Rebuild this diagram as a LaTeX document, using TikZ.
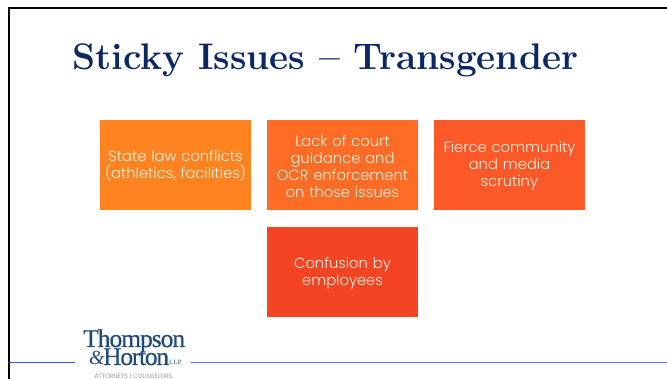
\documentclass[tikz,border=0pt]{standalone}
\usepackage{fontspec}
\setsansfont{Poppins Light}
\newfontfamily\logofont{Liberation Serif}
\definecolor{titleblue}{HTML}{0B2765}
\definecolor{logoblue}{HTML}{1F4A7C}
\definecolor{ruleblue}{HTML}{3355DD}
\definecolor{ruleblueb}{HTML}{5C78E8}
\definecolor{boxa}{HTML}{FF8421}
\definecolor{boxb}{HTML}{FF6C25}
\definecolor{boxc}{HTML}{FC5828}
\definecolor{boxd}{HTML}{F44424}
\newcommand{\firststrut}{\rule{0pt}{13.5pt}}
\tikzset{x=1pt,y=-1pt,
  issue/.style={minimum width=151pt,minimum height=90pt,inner sep=2pt,text width=147pt,align=center,text=white!88!orange,font=\sffamily\fontsize{14.7}{17}\selectfont},
  frame/.style={line width=2.4pt,black},
  rule/.style={line width=1.1pt,ruleblue},
  logotext/.style={anchor=base west,inner sep=0,text=logoblue,font=\logofont\fontsize{25.5}{25.5}\selectfont}}
\begin{document}
\begin{tikzpicture}
\useasboundingbox (0,0) rectangle (667,379);
\fill[white] (0,0) rectangle (667,379);
\draw[frame] (667,8) -- (9,8) -- (9,379);
\node[anchor=base west,inner sep=0,text=titleblue,font=\bfseries\fontsize{37}{39}\selectfont] (title) at (72,70) {\addfontfeature{LetterSpace=4.9,FakeBold=0.6}Sticky Issues -- Transgender};
\node[issue,fill=boxa] (a) at (175.5,165) {\firststrut State law conflicts\\(athletics, facilities)};
\node[issue,fill=boxb] (b) at (342.5,165) {\firststrut Lack of court\\guidance and\\OCR enforcement\\on those issues};
\node[issue,fill=boxc] (c) at (509.5,165) {\firststrut Fierce community\\and media\\scrutiny};
\node[issue,fill=boxd] (d) at (342.5,272) {\firststrut Confusion by\\employees};
\draw[rule] (9,362.5) -- (75,362.5);
\draw[rule,ruleblueb] (191,362.5) -- (667,362.5);
\node[logotext] (th) at (83,347) {\addfontfeature{LetterSpace=-4,FakeBold=0.5}Thompson};
\node[logotext] (ho) at (103,365) {\addfontfeature{LetterSpace=-5,FakeBold=0.5}Horton};
\node[logotext,anchor=base east,font=\logofont\itshape\fontsize{20}{20}\selectfont] (amp) at (105,365) {\&};
\node[logotext,font=\logofont\fontsize{6.5}{6.5}\selectfont] (llp) at (169,365) {\addfontfeature{LetterSpace=6}LLP};
\node[anchor=base,inner sep=0,text=gray,font=\sffamily\fontsize{6.2}{7}\selectfont] (att) at (133.5,378) {ATTORNEYS | COUNSELORS};
\end{tikzpicture}
\end{document}
